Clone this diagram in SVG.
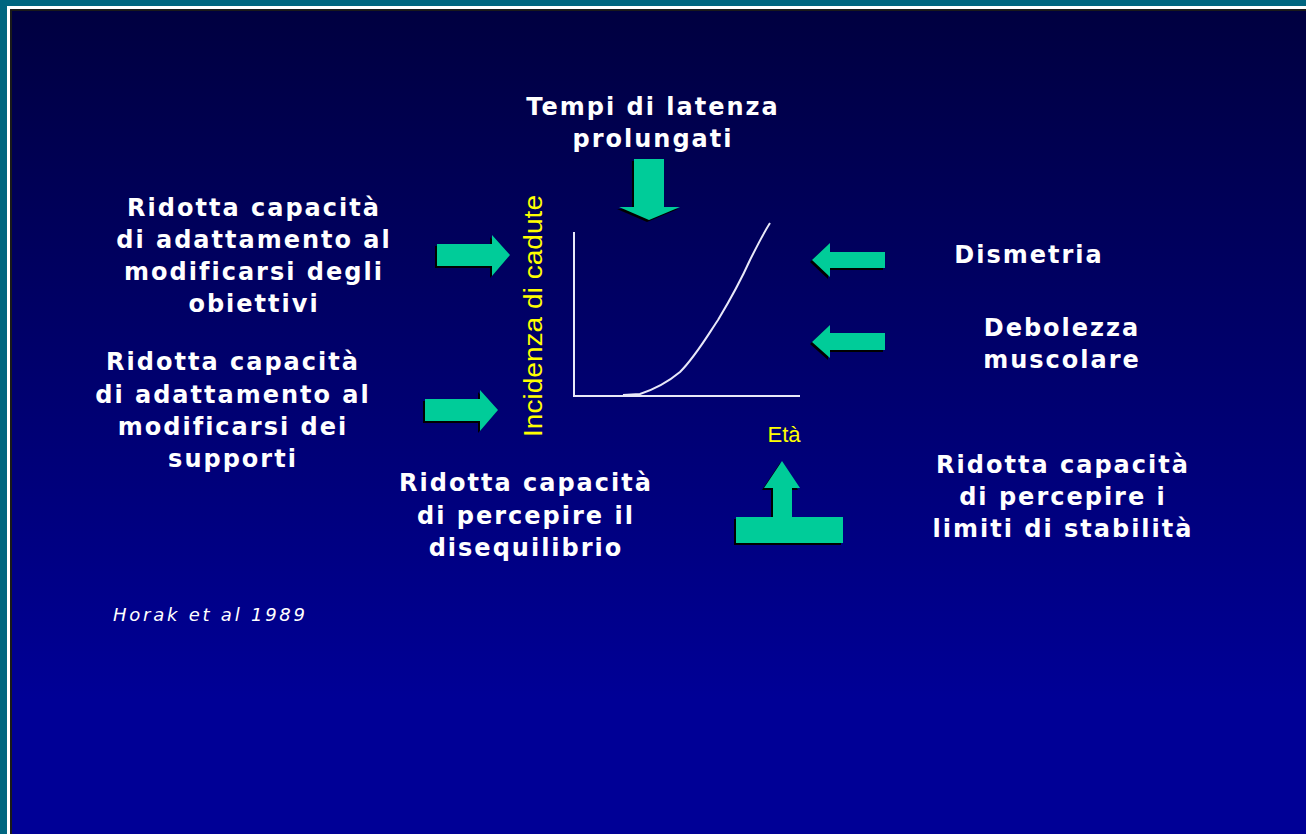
<svg xmlns="http://www.w3.org/2000/svg" width="1306" height="834" viewBox="0 0 1306 834">
  <defs>
    <linearGradient id="bg" x1="0" y1="11" x2="0" y2="700" gradientUnits="userSpaceOnUse">
      <stop offset="0" stop-color="#000040"/>
      <stop offset="1" stop-color="#000096"/>
    </linearGradient>
    <style>
      .lbl { font-family: "DejaVu Sans", "Liberation Sans", sans-serif; font-weight: bold; font-size: 24px; fill: #FFFFFF; text-anchor: middle; letter-spacing: 2px; }
      .axis { font-family: "Liberation Sans", "DejaVu Sans", sans-serif; fill: #FFFF00; }
      .arrow { fill: #00CC99; }
      .shadow { fill: #000000; }
      .ax { stroke: #E8E8F8; stroke-width: 2; fill: none; }
    </style>
  </defs>
  <!-- frame -->
  <rect x="0" y="0" width="1306" height="834" fill="#006680"/>
  <rect x="7" y="6" width="1299" height="828" fill="#FFFFFF"/>
  <rect x="10" y="9" width="1296" height="825" fill="#1A1A1A"/>
  <rect x="12" y="11" width="1294" height="823" fill="url(#bg)"/>

  <!-- chart -->
  <g id="chart">
    <path class="ax" d="M574,232 L574,396 L800,396"/>
    <path d="M623,395 L640,394 C655,389 668,382 680,372 C695,357 706,338 718,320 C730,300 741,280 750,260 C757,246 763,234 770,223" stroke="#E8E8F8" stroke-width="2" fill="none"/>
    <text class="axis" font-size="26" transform="translate(542,316) rotate(-90)" text-anchor="middle" textLength="242" lengthAdjust="spacingAndGlyphs">Incidenza di cadute</text>
    <text class="axis" font-size="22" x="784" y="442" text-anchor="middle">Età</text>
  </g>

  <!-- connectors (arrows) -->
  <g id="connectors">
    <g transform="translate(-2,2)">
      <polygon class="shadow" points="437,244 492,244 492,235 510,255 492,276 492,266 437,266"/>
      <polygon class="shadow" points="425,399 480,399 480,390 498,410 480,431 480,421 425,421"/>
      <polygon class="shadow" points="634,159 664,159 664,207 680,207 649,220 619,207 634,207"/>
      <polygon class="shadow" points="885,252 830,252 830,243 812,260 830,277 830,268 885,268"/>
      <polygon class="shadow" points="885,333 830,333 830,325 812,342 830,358 830,350 885,350"/>
      <polygon class="shadow" points="773,517 773,488 764,488 782,461 800,488 792,488 792,517 843,517 843,543 736,543 736,517"/>
    </g>
    <polygon class="arrow" points="437,244 492,244 492,235 510,255 492,276 492,266 437,266"/>
    <polygon class="arrow" points="425,399 480,399 480,390 498,410 480,431 480,421 425,421"/>
    <polygon class="arrow" points="634,159 664,159 664,207 680,207 649,220 619,207 634,207"/>
    <polygon class="arrow" points="885,252 830,252 830,243 812,260 830,277 830,268 885,268"/>
    <polygon class="arrow" points="885,333 830,333 830,325 812,342 830,358 830,350 885,350"/>
    <polygon class="arrow" points="773,517 773,488 764,488 782,461 800,488 792,488 792,517 843,517 843,543 736,543 736,517"/>
  </g>

  <g id="n-latenza">
    <text class="lbl" x="653" y="115">Tempi di latenza</text>
    <text class="lbl" x="653" y="147">prolungati</text>
  </g>
  <g id="n-obiettivi">
    <text class="lbl" x="254" y="216">Ridotta capacità</text>
    <text class="lbl" x="254" y="248">di adattamento al</text>
    <text class="lbl" x="254" y="280">modificarsi degli</text>
    <text class="lbl" x="254" y="312">obiettivi</text>
  </g>
  <g id="n-supporti">
    <text class="lbl" x="233" y="370">Ridotta capacità</text>
    <text class="lbl" x="233" y="403">di adattamento al</text>
    <text class="lbl" x="233" y="435">modificarsi dei</text>
    <text class="lbl" x="233" y="467">supporti</text>
  </g>
  <g id="n-dismetria">
    <text class="lbl" x="1029" y="263">Dismetria</text>
  </g>
  <g id="n-debolezza">
    <text class="lbl" x="1062" y="336">Debolezza</text>
    <text class="lbl" x="1062" y="368">muscolare</text>
  </g>
  <g id="n-disequilibrio">
    <text class="lbl" x="526" y="491">Ridotta capacità</text>
    <text class="lbl" x="526" y="524">di percepire il</text>
    <text class="lbl" x="526" y="556">disequilibrio</text>
  </g>
  <g id="n-stabilita">
    <text class="lbl" x="1063" y="473">Ridotta capacità</text>
    <text class="lbl" x="1063" y="505">di percepire i</text>
    <text class="lbl" x="1063" y="537">limiti di stabilità</text>
  </g>
  <g id="citation">
    <text x="113" y="621" font-family="DejaVu Sans, sans-serif" font-style="italic" font-size="18" fill="#FFFFFF" textLength="192" lengthAdjust="spacing">Horak et al 1989</text>
  </g>
</svg>
